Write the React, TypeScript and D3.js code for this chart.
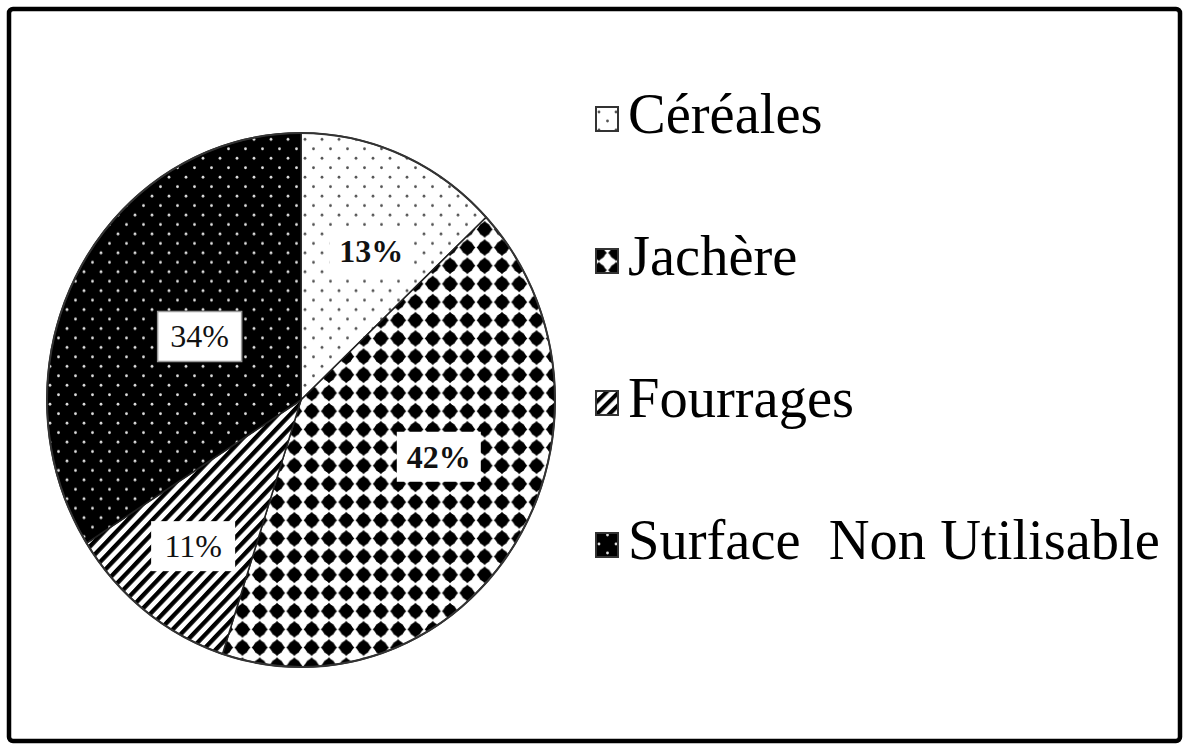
import React from "react";
import * as d3 from "d3";

const categories = ["Céréales", "Jachère", "Fourrages", "Surface  Non Utilisable"];
const values = [13, 42, 11, 34];
const valueLabels = ["13%", "42%", "11%", "34%"];
const patternIds = ["pCer", "pJac", "pFou", "pSnu"];

// layout (not data)
const W = 1183, H = 745;
const CX = 301, CY = 400, R = 254, YS = 1.051;
const labelRadius = [158, 148, 176, 118];
const labelAngleShift = [3, -11, 0, 2];
const labelBold = [true, true, false, false];
const labelBorder = [false, false, false, true];

export default function App() {
  const pie = d3.pie<number>().sort(null).value((d) => d)(values);
  const arc = d3.arc<d3.PieArcDatum<number>>().innerRadius(0).outerRadius(R);
  const legendY = d3.scalePoint<string>().domain(categories).range([133, 559]);

  return (
    <svg width={W} height={H} style={{ position: "absolute", left: 0, top: 0, background: "#fff" }}
      fontFamily="'Liberation Serif', 'Times New Roman', serif">
      <defs>
        <pattern id="pCer" patternUnits="userSpaceOnUse" width={17} height={18}>
          <rect width={17} height={18} fill="#fff" />
          <circle cx={4} cy={4} r={1.4} fill="#555" />
          <circle cx={12.5} cy={13} r={1.4} fill="#555" />
        </pattern>
        <pattern id="pSnu" patternUnits="userSpaceOnUse" width={17} height={18}>
          <rect width={17} height={18} fill="#000" />
          <circle cx={4} cy={4} r={1.4} fill="#ddd" />
          <circle cx={12.5} cy={13} r={1.4} fill="#ddd" />
        </pattern>
        <pattern id="pJac" patternUnits="userSpaceOnUse" width={17.3} height={17.3} x={2} y={2}>
          <rect width={17.3} height={17.3} fill="#fff" />
          <path d="M8.65,0.6 L16.7,8.65 L8.65,16.7 L0.6,8.65 Z" fill="#000" />
          <circle cx={8.65} cy={8.65} r={6.3} fill="#000" />
        </pattern>
        <pattern id="pFou" patternUnits="userSpaceOnUse" width={8.8} height={8.8} patternTransform="rotate(45)">
          <rect width={8.8} height={8.8} fill="#fff" />
          <rect width={4.2} height={8.8} fill="#000" />
        </pattern>
      </defs>

      <rect x={9} y={9} width={1171} height={732} rx={4} fill="#fff" stroke="#000" strokeWidth={4.5} />

      <g transform={`translate(${CX},${CY}) scale(1,${YS})`}>
        {pie.map((d, i) => (
          <path key={i} d={arc(d) || ""} fill={`url(#${patternIds[i]})`} stroke="#222" strokeWidth={1.5} />
        ))}
        <circle r={R} fill="none" stroke="#333" strokeWidth={2} />
      </g>

      {pie.map((d, i) => {
        const a = (d.startAngle + d.endAngle) / 2 + (labelAngleShift[i] * Math.PI) / 180;
        const x = CX + labelRadius[i] * Math.sin(a);
        const y = CY - labelRadius[i] * Math.cos(a) * YS;
        const bw = 84, bh = 50;
        return (
          <g key={i}>
            <rect x={x - bw / 2} y={y - bh / 2} width={bw} height={bh} fill="#fff"
              stroke={labelBorder[i] ? "#999" : "none"} strokeWidth={1.5} />
            <text x={x} y={y + 11} textAnchor="middle" fontSize={32}
              fontWeight={labelBold[i] ? "bold" : "normal"} fill="#111">
              {valueLabels[i]}
            </text>
          </g>
        );
      })}

      {categories.map((c, i) => {
        const y = legendY(c) as number;
        return (
          <g key={c}>
            <rect x={596} y={y - 26} width={22} height={24} fill={`url(#${patternIds[i]})`} stroke="#333" strokeWidth={2} />
            <text x={628} y={y} fontSize={56.5} fill="#000" style={{ whiteSpace: "pre" }}>{c}</text>
          </g>
        );
      })}
    </svg>
  );
}
